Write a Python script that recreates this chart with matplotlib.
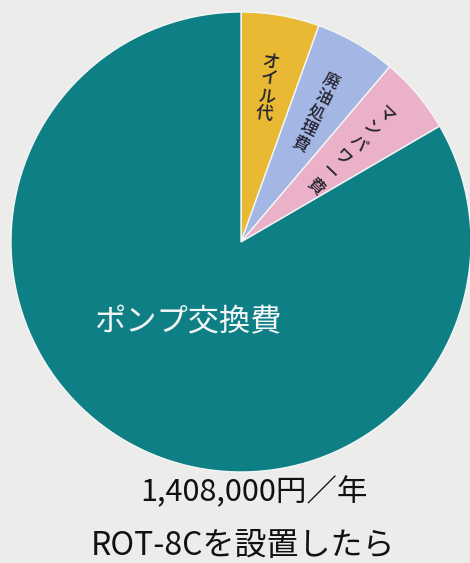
import matplotlib
matplotlib.use("Agg")
import matplotlib.pyplot as plt
import numpy as np

plt.rcParams['font.family'] = ['Noto Sans CJK JP', 'DejaVu Sans']

categories = ['オイル代', '廃油処理費', 'マンパワー費', 'ポンプ交換費']
shares = [5.5, 5.7, 5.4, 83.4]
colors = ['#e9b934', '#a4b6e3', '#ebb1c8', '#0f7f86']
total_text = '1,408,000円／年'
sub_text = 'ROT-8Cを設置したら'

bg = '#ececeb'
fig = plt.figure(figsize=(4.70, 5.63), dpi=100, facecolor=bg)
W, H = 470, 563
cx, cy, R = 241, 242, 230
ax = fig.add_axes([(cx - R) / W, 1 - (cy + R) / H, 2 * R / W, 2 * R / H])
ax.set_facecolor(bg)

wedges, _ = ax.pie(shares, colors=colors, startangle=90, counterclock=False,
                   radius=1.0,
                   wedgeprops=dict(edgecolor='#f3f7f6', linewidth=1.0))
ax.set_xlim(-1, 1)
ax.set_ylim(-1, 1)
ax.set_aspect('auto')
ax.axis('off')

label_r = [0.68, 0.65, 0.62]
rot_adj = [2, 4, 6]
sizes = [12.5, 12, 12]
spacing = [1.0, 0.95, 1.15]
for i, w in enumerate(wedges[:3]):
    mid = np.deg2rad((w.theta1 + w.theta2) / 2)
    x, y = label_r[i] * np.cos(mid), label_r[i] * np.sin(mid)
    rot = np.rad2deg(mid) - 90 + rot_adj[i]
    ax.text(x, y, "\n".join(categories[i]), ha='center', va='center',
            rotation=rot, rotation_mode='anchor', fontsize=sizes[i],
            linespacing=spacing[i], color='#23222f', fontweight='medium')

ax.text(-0.23, -0.35, categories[3], ha='center', va='center',
        fontsize=22.5, color='#f4f7f6')

fig.text(254 / W, 1 - 492 / H, total_text, ha='center', va='center',
         fontsize=22, color='#111111')
fig.text(243 / W, 1 - 546 / H, sub_text, ha='center', va='center',
         fontsize=23, color='#111111')

fig.savefig('out.png', dpi=100, facecolor=bg)
